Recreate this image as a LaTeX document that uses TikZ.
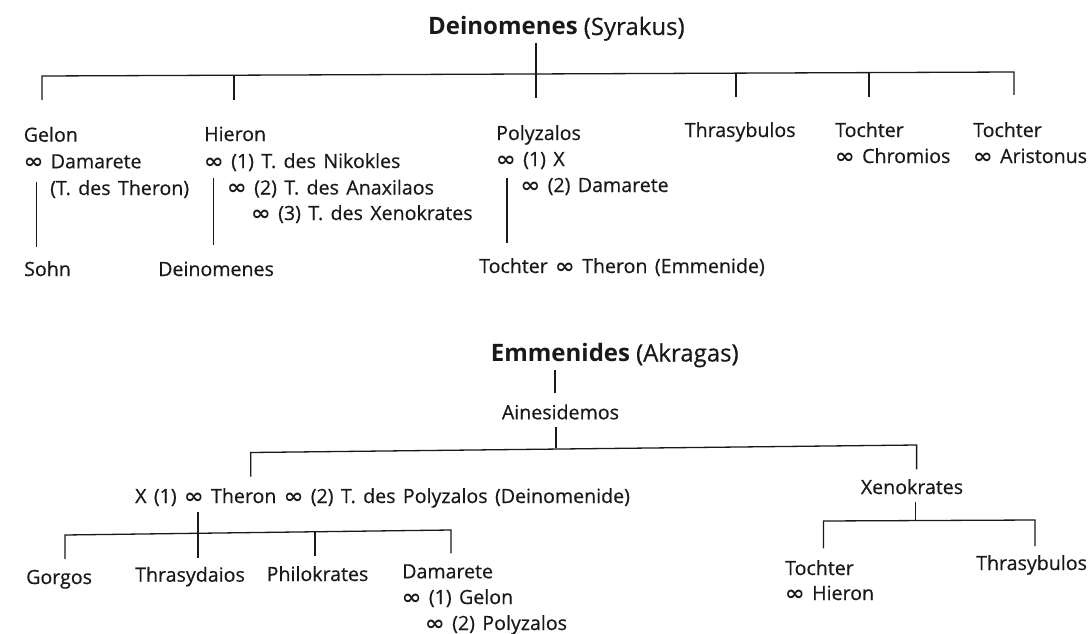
\documentclass[tikz,border=0pt]{standalone}
\usepackage{fontspec}
\usepackage{graphicx}
\setmainfont{Open Sans}[UprightFeatures={FakeBold=0.5}, WordSpace=1.45]
\newfontfamily\symf{DejaVu Sans}
\newcommand\mar{{\symf\bfseries\scalebox{1.2}[1.05]{∞}}}
\tikzset{
  t/.style={anchor=base west, inner sep=0pt, text=black!90, font=\fontsize{19.6}{21}\selectfont},
  ttl/.style={anchor=base west, inner sep=0pt, text=black!90, font=\fontsize{24}{26}\selectfont},
  ln/.style={draw=black!90, line width=1.3pt}
}
\begin{document}
\begin{tikzpicture}[x=1pt,y=-1pt]
\useasboundingbox (0,0) rectangle (1088,634);
% ---------- Deinomenes ----------
\node[ttl] (titleA) at (428,35) {\textbf{Deinomenes}\hspace{-3pt} (Syrakus)};
\node[t] (gelon1) at (23.6,141.7) {Gelon};
\node[t] (gelon2) at (23.6,168.3) {\mar{} Damarete};
\node[t] (gelon3) at (50,195) {(T. des Theron)};
\node[t] (sohn) at (24,276) {Sohn};
\node[t] (hieron1) at (204,141) {Hieron};
\node[t] (hieron2) at (204,168) {\mar{} (1) T. des Nikokles};
\node[t] (hieron3) at (227,194.5) {\mar{} (2) T. des Anaxilaos};
\node[t] (hieron4) at (251,220) {\mar{} (3) T. des Xenokrates};
\node[t] (deinom) at (158,276) {Deinomenes};
\node[t] (poly1) at (496,140) {Polyzalos};
\node[t] (poly2) at (496,166) {\mar{} (1) X};
\node[t] (poly3) at (520.5,192) {\mar{} (2) Damarete};
\node[t] (tochT) at (479,273) {Tochter \mar{} Theron (Emmenide)};
\node[t] (thras) at (684.6,137) {Thrasybulos};
\node[t] (tochA1) at (835,137) {Tochter};
\node[t] (tochA2) at (835,163) {\mar{} Chromios};
\node[t] (tochB1) at (973,137) {Tochter};
\node[t] (tochB2) at (973,163) {\mar{} Aristonus};
% lines
\coordinate (a0) at (536,43);
\coordinate (aL) at (42,76);
\coordinate (aR) at (1014,72);
\coordinate (a1) at (42,100);
\coordinate (b1t) at (234,75.2);
\coordinate (b1) at (234,100);
\coordinate (c1) at (536,98);
\coordinate (d1t) at (736,73.1);
\coordinate (d1) at (736,96.7);
\coordinate (e1t) at (869,72.6);
\coordinate (e1) at (869,96.7);
\coordinate (f1) at (1014,95);
\draw[ln] (a0) -- (c1);
\draw[ln] (a1) -- (aL) -- (aR) -- (f1);
\draw[ln] (b1t) -- (b1);
\draw[ln] (d1t) -- (d1);
\draw[ln] (e1t) -- (e1);
\coordinate (g0) at (36.5,181.7); \coordinate (g1) at (36.5,246.5);
\coordinate (h0) at (213.5,178); \coordinate (h1) at (213.5,245);
\coordinate (p0) at (507,178); \coordinate (p1) at (507,243);
\draw[ln] (g0) -- (g1);
\draw[ln] (h0) -- (h1);
\draw[ln] (p0) -- (p1);
% ---------- Emmenides ----------
\node[ttl] (titleB) at (490.7,361.5) {\textbf{Emmenides}\hspace{-3pt} (Akragas)};
\node[t] (aines) at (501.7,419.3) {Ainesidemos};
\node[t] (theron) at (135,503) {X (1) \mar{} Theron \mar{} (2) T. des Polyzalos (Deinomenide)};
\node[t] (xeno) at (860.7,494) {Xenokrates};
\node[t] (gorgos) at (26,584) {Gorgos};
\node[t] (thrasyd) at (135,581.7) {Thrasydaios};
\node[t] (philo) at (266.5,581) {Philokrates};
\node[t] (dam1) at (402,578.3) {Damarete};
\node[t] (dam2) at (401.7,604) {\mar{} (1) Gelon};
\node[t] (dam3) at (425,630) {\mar{} (2) Polyzalos};
\node[t] (tochC1) at (785,575) {Tochter};
\node[t] (tochC2) at (785,600) {\mar{} Hieron};
\node[t] (thrasB) at (976,570) {Thrasybulos};
\coordinate (m0) at (555,370); \coordinate (m1) at (555,393);
\coordinate (n0) at (556,427); \coordinate (n1) at (556,448);
\draw[ln] (m0) -- (m1);
\draw[ln] (n0) -- (n1);
\coordinate (oL) at (250.7,452.5); \coordinate (oR) at (916.6,445);
\coordinate (o1) at (250.7,476.7); \coordinate (o2) at (916.6,469.3);
\draw[ln] (o1) -- (oL) -- (oR) -- (o2);
\coordinate (q0) at (198,511.7); \coordinate (q1) at (198,558);
\draw[ln] (q0) -- (q1);
\coordinate (rL) at (65,535); \coordinate (rR) at (451,530);
\coordinate (r1) at (65,559); \coordinate (r4) at (451,553.3);
\coordinate (r3t) at (315,531.7); \coordinate (r3) at (315,556);
\draw[ln] (r1) -- (rL) -- (rR) -- (r4);
\draw[ln] (r3t) -- (r3);
\coordinate (x0) at (915.5,501.7); \coordinate (x1) at (915.5,521);
\draw[ln] (x0) -- (x1);
\coordinate (sL) at (823.5,521); \coordinate (sR) at (1035,520);
\coordinate (s1) at (823.5,548.3); \coordinate (s2) at (1035,546);
\draw[ln] (s1) -- (sL) -- (sR) -- (s2);
\end{tikzpicture}
\end{document}
